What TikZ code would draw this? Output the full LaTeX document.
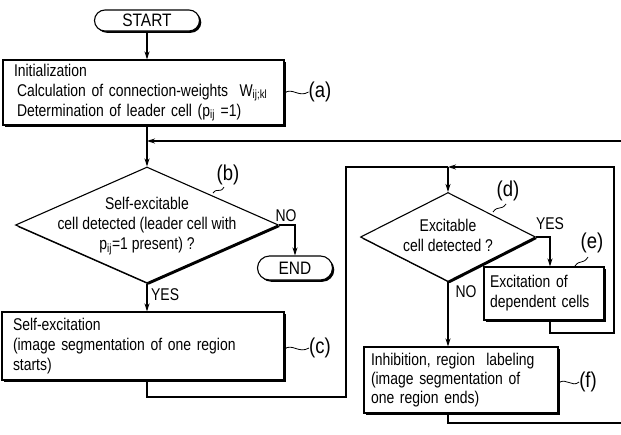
\documentclass[tikz,border=0pt]{standalone}
\usepackage{fontspec}
\setmainfont{Liberation Sans}[FakeStretch=0.82]
\newfontfamily\termfont{Liberation Sans}[FakeStretch=0.86]
\usetikzlibrary{shapes.geometric,shapes.misc,shadows,arrows.meta}
\begin{document}
\begin{tikzpicture}[x=1pt,y=-1pt,
  every node/.style={font=\fontsize{17}{20}\selectfont},
  sh/.style={drop shadow={shadow xshift=1.8pt,shadow yshift=-1.8pt,fill=black,opacity=1}},
  boxn/.style={draw,fill=white,line width=1.1pt,sh,rectangle,align=left,inner ysep=0pt},
  term/.style={draw,fill=white,line width=1.1pt,sh,rounded rectangle,inner sep=0pt,font=\termfont\fontsize{18}{20}\selectfont},
  dia/.style={draw,fill=white,line width=1.1pt,sh,diamond,inner sep=0pt},
  txt/.style={align=center,inner sep=0pt},
  lab/.style={inner sep=0pt,font=\termfont\fontsize{21.5}{22}\selectfont},
  ln/.style={line width=1.1pt},
  arr/.style={ln,-{Stealth[length=8pt,width=5pt]}},
  tl/.style={line width=0.8pt},
]
\useasboundingbox (0,0) rectangle (621,434);

% nodes
\node[term,minimum width=105pt,minimum height=21pt] (start) at (147,20.5) {START};
\node[boxn,minimum width=281pt,minimum height=65pt,text width=259pt,inner xsep=11pt] (init) at (143.5,92.5)
  {Initialization\\
   \hspace*{3pt}\mbox{Calculation of connection-weights\ \ W\textsubscript{ij;kl}}\\
   \hspace*{3pt}Determination of leader cell (p\textsubscript{ij} =1)};
\coordinate (j1) at (147,141);
\coordinate (r1) at (621,141);
\node[dia,minimum width=263pt,minimum height=116pt] (b) at (147,225) {};
\node[txt] (btext) at (147,226) {Self-excitable\\cell detected (leader cell with\\p\textsubscript{ij}=1 present) ?};
\node[term,minimum width=75pt,minimum height=24pt] (endn) at (295,268) {END};
\node[boxn,minimum width=282pt,minimum height=68pt,text width=260pt,inner xsep=11pt] (self) at (143,346)
  {Self-excitation\\(image segmentation of one region\\starts)};
\coordinate (c1) at (346,397);
\coordinate (c2) at (346,167);
\coordinate (j2) at (448,167);
\node[dia,minimum width=175pt,minimum height=89pt] (d) at (448,237) {};
\node[txt] (dtext) at (448,235) {Excitable\\cell detected ?};
\node[boxn,minimum width=120pt,minimum height=53pt,text width=108pt,inner xsep=6pt] (e) at (544,293.5)
  {Excitation of\\dependent cells};
\coordinate (c3) at (614,333);
\node[boxn,minimum width=194pt,minimum height=66pt,text width=180pt,inner xsep=7pt,font=\fontsize{17}{19}\selectfont] (f) at (461,380)
  {Inhibition, region\ \ labeling\\(image segmentation of\\one region ends)};
\coordinate (r2) at (621,423);

% connectors
\draw[arr] (start.south) -- (start.south |- init.north);
\draw[ln] (init.south -| j1) -- (j1);
\draw[arr] (r1) -- (j1);
\draw[arr] (j1) -- (b.north);
\draw[arr] (b.east) -| (endn.north);
\node[inner sep=0pt] (no1) at (286,216) {NO};
\draw[arr] (b.south) -- (self.north -| b.south);
\node[inner sep=0pt,anchor=west] (yes1) at (151,295) {YES};
\draw[ln] (self.south -| b.south) |- (c1) -- (c2) -- (j2);
\draw[arr] (j2) -- (d.north);
\draw[arr] (d.east) -| ([xshift=6pt]e.north);
\node[inner sep=0pt] (yes2) at (550,224) {YES};
\draw[arr] ([xshift=6pt]e.south) |- (c3) |- (j2);
\draw[arr] (d.south) -- (f.north -| d.south);
\node[inner sep=0pt] (no2) at (466,292) {NO};
\draw[ln] (f.south -| d.south) |- (r2);

% reference labels
\node[lab] (la) at (320,92) {(a)};
\draw[tl] (init.east |- 0,93) .. controls (292,87) and (299,98) .. (la.west);
\node[lab] (lb) at (228,175) {(b)};
\draw[tl] (213,193) .. controls (218,187) and (220,194) .. (224,187);
\node[lab] (lc) at (320,348) {(c)};
\draw[tl] (self.east |- 0,349) .. controls (292,343) and (299,354) .. (lc.west);
\node[lab] (ld) at (508,191) {(d)};
\draw[tl] (493,212) .. controls (498,205) and (501,211) .. (506,204);
\node[lab] (le) at (592,243) {(e)};
\draw[tl] (575,266) .. controls (580,259) and (583,265) .. (588,257);
\node[lab] (lf) at (588,382) {(f)};
\draw[tl] (f.east |- 0,383) .. controls (566,377) and (572,388) .. (lf.west);
\end{tikzpicture}
\end{document}
